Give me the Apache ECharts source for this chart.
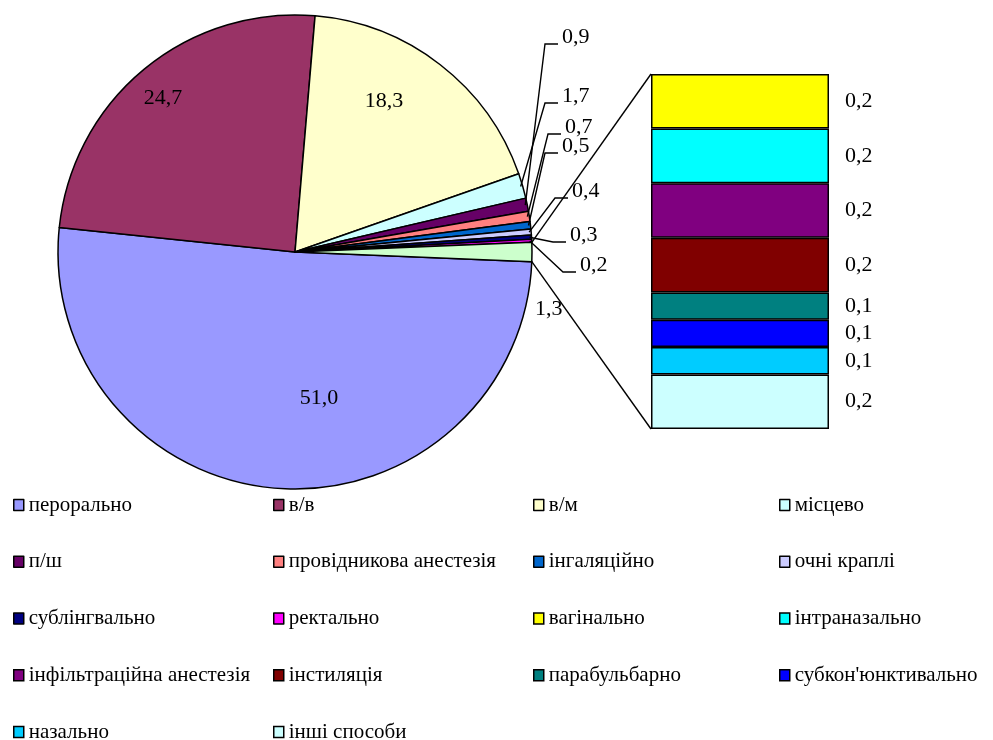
<!DOCTYPE html>
<html>
<head>
<meta charset="utf-8">
<script src="https://cdn.jsdelivr.net/npm/echarts@6/dist/echarts.min.js"></script>
<style>
  html, body { margin: 0; padding: 0; background: #fff; }
  #chart { width: 993px; height: 740px; }
</style>
</head>
<body>
<div id="chart"></div>
<script>
// Routes of administration, % — main pie
const pieNames = ['перорально', 'в/в', 'в/м', 'місцево', 'п/ш', 'провідникова анестезія',
  'інгаляційно', 'очні краплі', 'сублінгвально', 'ректально'];
const pieValues = [51.0, 24.7, 18.3, 1.7, 0.9, 0.7, 0.5, 0.4, 0.3, 0.2];

// Breakdown of the combined slice, listed from top of the column to bottom
const barNames = ['вагінально', 'інтраназально', 'інфільтраційна анестезія', 'інстиляція',
  'парабульбарно', "субкон'юнктивально", 'назально', 'інші способи'];
const barValues = [0.2, 0.2, 0.2, 0.2, 0.1, 0.1, 0.1, 0.2];

const otherName = 'інші';
const otherTotal = barValues.reduce((s, v) => s + v, 0);

// Legend reads row by row, four entries per row
const legendOrder = pieNames.concat(barNames);

// Palette
const pieColors = ['#9999FF', '#993366', '#FFFFCC', '#CCFFFF', '#660066', '#FF8080',
  '#0066CC', '#CCCCFF', '#000080', '#FF00FF'];
const otherColor = '#CCFFCC';
const barColors = ['#FFFF00', '#00FFFF', '#800080', '#800000', '#008080', '#0000FF',
  '#00CCFF', '#CCFFFF'];

const FONT = "'Liberation Serif', 'Times New Roman', serif";
const fmt = v => v.toFixed(1).replace('.', ',');

// Pie geometry
const CX = 295, CY = 252, R = 237;
const total = pieValues.reduce((s, v) => s + v, 0) + otherTotal;
const otherSpan = otherTotal / total * 360;
const startAngle = -otherSpan / 2;   // combined slice centred at 3 o'clock

// Label anchors [x, y, align] per pie slice (last one is the combined slice)
const labelSpots = [
  [319, 398, 'center'], [163, 98, 'center'], [384, 101, 'center'],
  [562, 96, 'left'], [562, 37, 'left'], [565, 127, 'left'], [562, 146, 'left'],
  [572, 191, 'left'], [570, 235, 'left'], [580, 265, 'left'], [535, 309, 'left']
];

const pieData = pieNames.map((n, i) => ({
  name: n, value: pieValues[i], itemStyle: { color: pieColors[i] }
}));
pieData.push({ name: otherName, value: otherTotal, itemStyle: { color: otherColor } });

const barSeries = [];
for (let i = barNames.length - 1; i >= 0; i--) {
  barSeries.push({
    type: 'bar', name: barNames[i], stack: 'rest', data: [barValues[i]],
    barWidth: '100%',
    itemStyle: { color: barColors[i], borderColor: '#000', borderWidth: 1.5 },
    label: {
      show: true, position: 'right', distance: 16,
      fontFamily: FONT, fontSize: 22, color: '#000',
      formatter: p => fmt(p.value)
    },
    emphasis: { disabled: true }
  });
}

// Legend grid: four columns, one component per entry
const legendCols = [13, 273, 533, 779];
const legendTop = 494.5, legendRowStep = 56.75;
const legends = legendOrder.map((name, i) => ({
  orient: 'horizontal', padding: 0,
  left: legendCols[i % 4], top: legendTop + Math.floor(i / 4) * legendRowStep,
  itemWidth: 10, itemHeight: 11, icon: 'rect', selectedMode: false,
  itemStyle: { borderColor: '#000', borderWidth: 1.5 },
  textStyle: { fontFamily: FONT, fontSize: 21, color: '#000' },
  data: [name]
}));

const chart = echarts.init(document.getElementById('chart'));
chart.setOption({
  animation: false,
  backgroundColor: '#fff',
  grid: { left: 651, top: 74, width: 178, height: 355 },
  xAxis: { type: 'category', data: ['r'], show: false },
  yAxis: { type: 'value', min: 0, max: otherTotal, show: false },
  legend: legends,
  series: [{
    type: 'pie',
    center: [CX, CY], radius: R, startAngle: startAngle, clockwise: true,
    data: pieData,
    itemStyle: { borderColor: '#000', borderWidth: 1.5 },
    label: {
      show: true, fontFamily: FONT, fontSize: 22, color: '#000',
      formatter: p => fmt(p.value)
    },
    labelLine: { show: false },
    labelLayout: p => {
      const s = labelSpots[p.dataIndex];
      return { x: s[0], y: s[1], align: s[2], verticalAlign: 'middle' };
    },
    emphasis: { disabled: true }
  }].concat(barSeries)
});

// Leader lines for the thin slices and the connectors to the column
const graphics = [];
let a = startAngle;
const mids = [];
pieData.forEach(d => {
  const span = d.value / total * 360;
  mids.push(a - span / 2);
  a -= span;
});
const rad = deg => deg * Math.PI / 180;
const onRim = (deg, r) => [CX + r * Math.cos(rad(deg)), CY - r * Math.sin(rad(deg))];

for (let i = 3; i < pieNames.length; i++) {
  const s = labelSpots[i];
  const yLine = s[1] + 7;
  graphics.push({
    type: 'polyline', z: 20,
    shape: { points: [onRim(mids[i], R - 2), [s[0] - 17, yLine], [s[0] - 4, yLine]] },
    style: { stroke: '#000', lineWidth: 1.4, fill: null }
  });
}

const xAxis = chart.getModel().getComponent('xAxis', 0).axis;
const half = xAxis.getBandWidth() / 2;
const colLeft = chart.convertToPixel({ xAxisIndex: 0 }, 'r') - half;
const colTop = chart.convertToPixel({ yAxisIndex: 0 }, otherTotal);
const colBottom = chart.convertToPixel({ yAxisIndex: 0 }, 0);
graphics.push({
  type: 'polyline', z: 20,
  shape: { points: [onRim(otherSpan / 2, R), [colLeft, colTop]] },
  style: { stroke: '#000', lineWidth: 1.4, fill: null }
});
graphics.push({
  type: 'polyline', z: 20,
  shape: { points: [onRim(-otherSpan / 2, R), [colLeft, colBottom]] },
  style: { stroke: '#000', lineWidth: 1.4, fill: null }
});

chart.setOption({ graphic: graphics });
</script>
</body>
</html>
